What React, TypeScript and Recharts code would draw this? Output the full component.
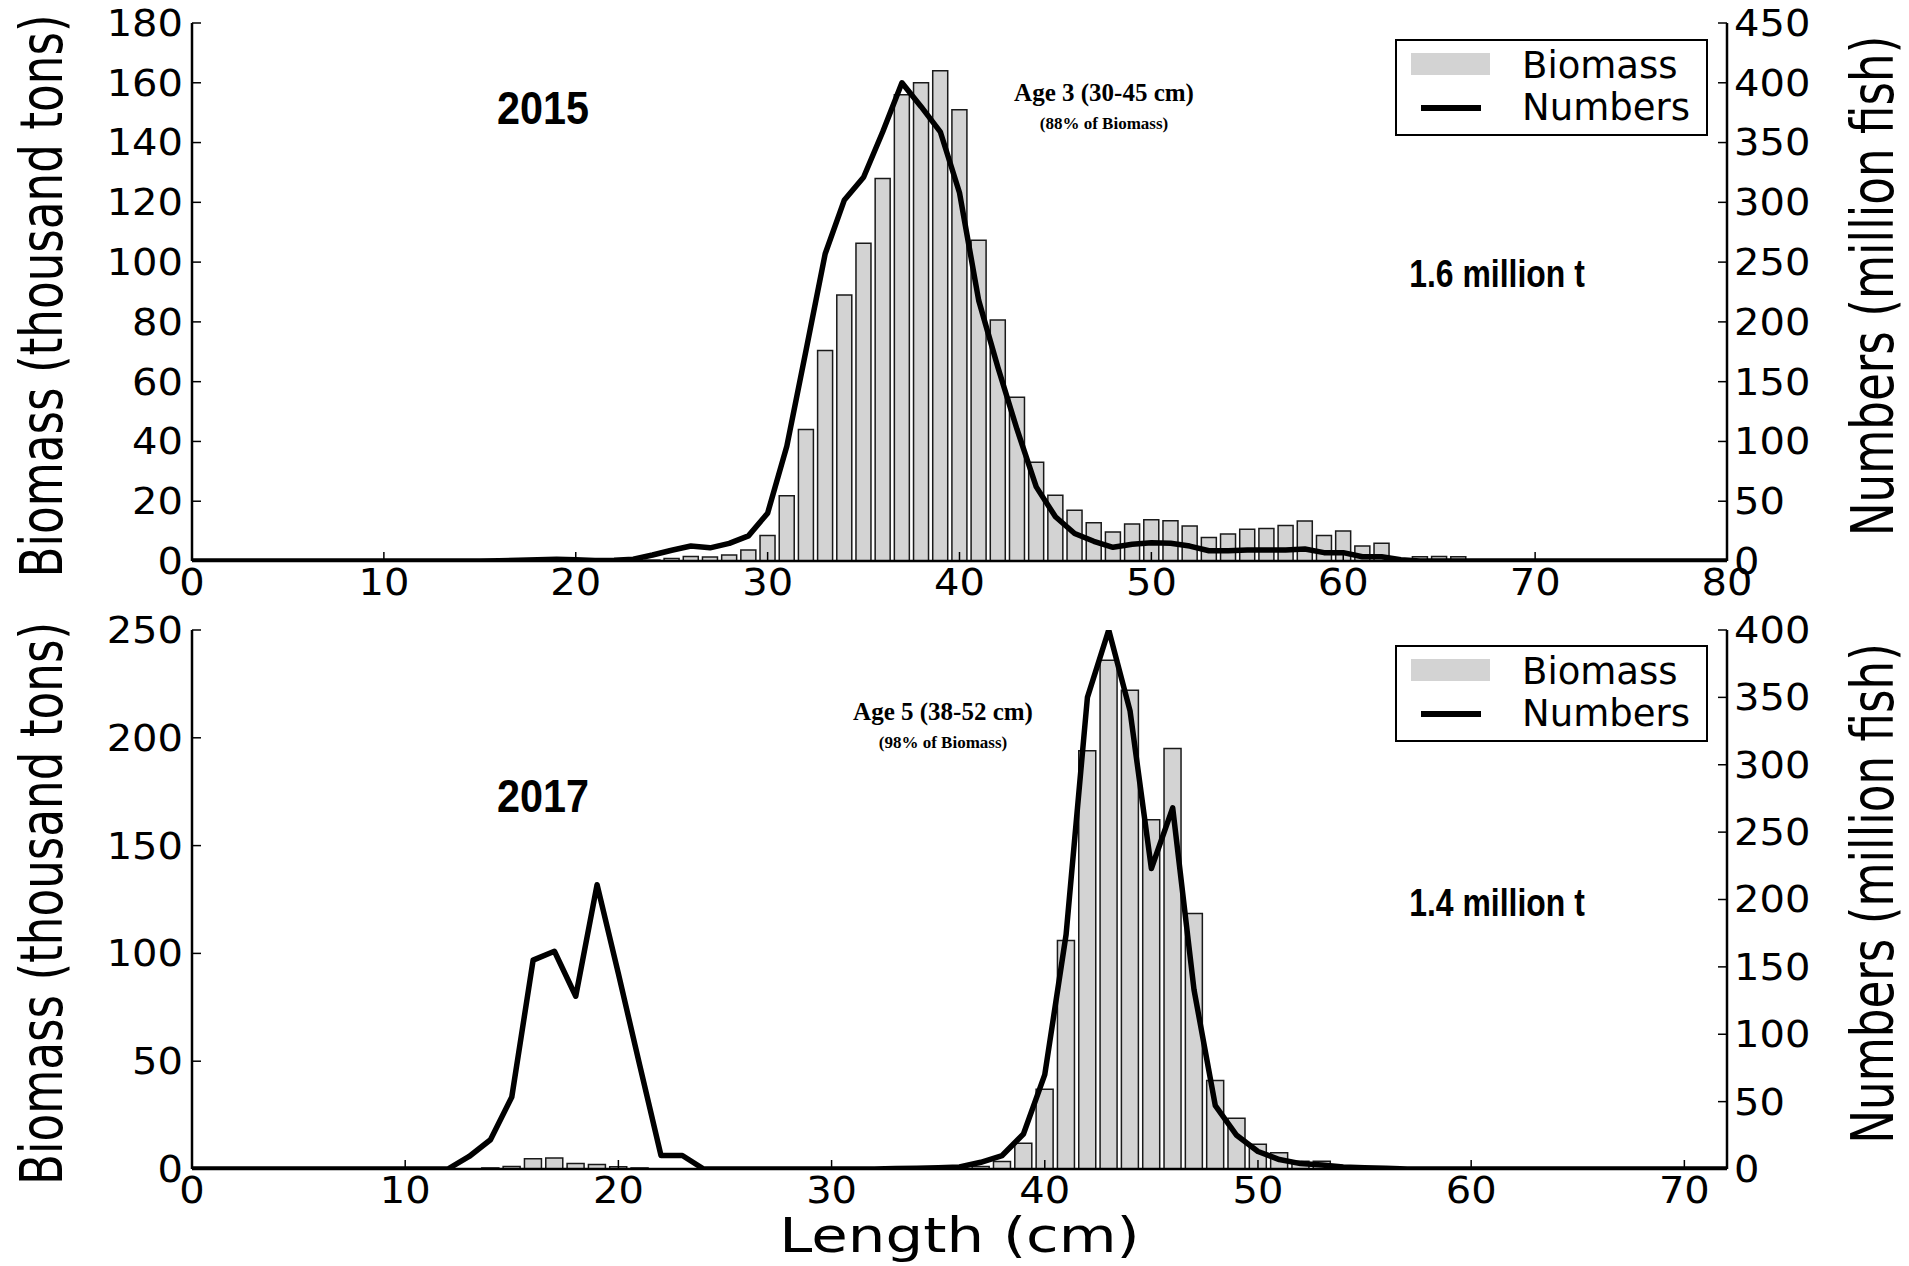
import React from 'react';
import { ComposedChart, Bar, Line, XAxis, YAxis, Legend } from 'recharts';

// ---- 2015 survey, one value per 1 cm length bin (0..80 cm) ----
const biomass2015 = [
  0, 0, 0, 0, 0, 0, 0, 0, 0, 0,
  0, 0, 0, 0, 0, 0, 0, 0, 0, 0,
  0, 0, 0, 0, 0.3, 0.8, 1.5, 1.3, 2, 3.7,
  8.5, 21.8, 44, 70.4, 89, 106.3, 128, 156, 160, 164,
  151, 107.3, 80.6, 54.8, 33, 22, 17, 12.8, 9.7, 12.4,
  13.8, 13.5, 11.7, 7.9, 9, 10.6, 10.9, 11.9, 13.4, 8.5,
  10, 5, 5.9, 0, 1.4, 1.5, 1.4, 0, 0, 0,
  0, 0, 0, 0, 0, 0, 0, 0, 0, 0,
  0,
];
const numbers2015 = [
  0, 0, 0, 0, 0, 0, 0, 0, 0, 0,
  0, 0, 0, 0, 0, 0, 0.3, 0.6, 1, 1.5,
  1, 0.5, 0.6, 1.5, 5, 9, 12.5, 11, 14.7, 21,
  40, 96, 176, 257, 302, 321, 359, 400, 380, 359,
  308, 218, 162, 110, 62, 37, 23, 16.5, 11.5, 14,
  15.3, 14.8, 12.5, 8.6, 8.6, 9.2, 9.2, 9.2, 10, 7,
  7, 3.6, 3.6, 1, 0, 0, 0, 0, 0, 0,
  0, 0, 0, 0, 0, 0, 0, 0, 0, 0,
  0,
];

// ---- 2017 survey, 0..72 cm ----
const biomass2017 = [
  0, 0, 0, 0, 0, 0, 0, 0, 0, 0,
  0, 0, 0, 0, 0.5, 1.2, 4.8, 5.1, 2.6, 2.1,
  1, 0.5, 0, 0, 0, 0, 0, 0, 0, 0,
  0, 0, 0, 0, 0, 0, 0, 1.2, 3.5, 12,
  37, 106, 194, 236, 222, 162, 195, 118.5, 41, 23.5,
  11.5, 7.5, 3.6, 3.6, 1.2, 0.3, 0, 0, 0, 0,
  0, 0, 0, 0, 0, 0, 0, 0, 0, 0,
  0, 0, 0,
];
const numbers2017 = [
  0, 0, 0, 0, 0, 0, 0, 0, 0, 0,
  0, 0, 0, 9.3, 21.7, 53.4, 155, 161.6, 128.2, 211,
  145, 77, 10, 10, 0, 0, 0, 0, 0, 0,
  0, 0, 0, 0.3, 0.5, 1, 1.5, 5, 10, 26,
  70, 174, 350, 400, 340, 223, 268, 133, 47, 25,
  13, 7, 4, 3, 1.5, 1, 0.5, 0, 0, 0,
  0, 0, 0, 0, 0, 0, 0, 0, 0, 0,
  0, 0, 0,
];

const lengthTicks2015 = [0, 10, 20, 30, 40, 50, 60, 70, 80];
const lengthTicks2017 = [0, 10, 20, 30, 40, 50, 60, 70];
const biomassTicks2015 = [0, 20, 40, 60, 80, 100, 120, 140, 160, 180];
const numbersTicks2015 = [0, 50, 100, 150, 200, 250, 300, 350, 400, 450];
const biomassTicks2017 = [0, 50, 100, 150, 200, 250];
const numbersTicks2017 = [0, 50, 100, 150, 200, 250, 300, 350, 400];

const table2015 = biomass2015.map((b, i) => ({ length: i, biomass: b, numbers: numbers2015[i] }));
const table2017 = biomass2017.map((b, i) => ({ length: i, biomass: b, numbers: numbers2017[i] }));

const W = 1909;
const SANS = "'DejaVu Sans', sans-serif";
const BOLD_SANS = "'Liberation Sans', Arial, sans-serif";
const SERIF = "'Liberation Serif', 'Times New Roman', serif";
const TICK_FS = 40;
const TICK_LEN = 9;
const SPINE = { stroke: '#000', strokeWidth: 2.5 };

const BottomTick = ({ x, y, payload }: any) => (
  <g>
    <line x1={x} x2={x} y1={y} y2={y - TICK_LEN} stroke="#000" strokeWidth={1.5} />
    <text
      transform={`translate(${x},${y + 34}) scale(1,0.92)`}
      textAnchor="middle"
      fontFamily={SANS}
      fontSize={TICK_FS}
      fill="#000"
    >
      {payload.value}
    </text>
  </g>
);

const TopTick = ({ x, y }: any) => (
  <line x1={x} x2={x} y1={y} y2={y + TICK_LEN} stroke="#000" strokeWidth={1.5} />
);

const LeftTick = ({ x, y, payload }: any) => (
  <g>
    <line x1={x} x2={x + TICK_LEN} y1={y} y2={y} stroke="#000" strokeWidth={1.5} />
    <text
      transform={`translate(${x - 9},${y}) scale(1,0.92)`}
      textAnchor="end"
      dominantBaseline="central"
      fontFamily={SANS}
      fontSize={TICK_FS}
      fill="#000"
    >
      {payload.value}
    </text>
  </g>
);

const RightTick = ({ x, y, payload }: any) => (
  <g>
    <line x1={x} x2={x - TICK_LEN} y1={y} y2={y} stroke="#000" strokeWidth={1.5} />
    <text
      transform={`translate(${x + 7},${y}) scale(1,0.92)`}
      textAnchor="start"
      dominantBaseline="central"
      fontFamily={SANS}
      fontSize={TICK_FS}
      fill="#000"
    >
      {payload.value}
    </text>
  </g>
);

// rotated titles look squashed along their length in the original figure
const sideTitle = (text: string, dx: number, dy: number) => (props: any) => {
  const { viewBox } = props;
  const cx = viewBox.x + dx;
  const cy = viewBox.y + viewBox.height / 2 + dy;
  return (
    <text
      transform={`translate(${cx},${cy}) rotate(-90) scale(0.78,1)`}
      textAnchor="middle"
      dominantBaseline="central"
      fontFamily={SANS}
      fontSize={58}
      fill="#000"
    >
      {text}
    </text>
  );
};

const lengthTitle = (props: any) => {
  const { viewBox } = props;
  const cx = viewBox.x + viewBox.width / 2;
  const cy = viewBox.y + 67;
  return (
    <text
      transform={`translate(${cx},${cy}) scale(1.06,0.86)`}
      textAnchor="middle"
      dominantBaseline="central"
      fontFamily={SANS}
      fontSize={56}
      fill="#000"
    >
      Length (cm)
    </text>
  );
};

const LegendBox = ({ payload }: any) => (
  <svg width={313} height={97} style={{ display: 'block' }}>
    <rect x={1} y={1} width={311} height={95} fill="#fff" stroke="#000" strokeWidth={2} />
    {(payload || []).map((entry: any, i: number) => {
      const cy = i === 0 ? 26 : 68;
      return (
        <g key={entry.value}>
          {entry.type === 'line' ? (
            <line x1={26} x2={86} y1={cy + 1} y2={cy + 1} stroke="#000" strokeWidth={6} />
          ) : (
            <rect x={16} y={cy - 12} width={79} height={22} fill="#d3d3d3" />
          )}
          <text x={127} y={cy} dominantBaseline="central" fontFamily={SANS} fontSize={37} fill="#000">
            {entry.value}
          </text>
        </g>
      );
    })}
  </svg>
);

interface PanelProps {
  top: number;
  height: number;
  xAxisHeight: number;
  data: { length: number; biomass: number; numbers: number }[];
  xMax: number;
  xTicks: number[];
  leftMax: number;
  leftTicks: number[];
  rightMax: number;
  rightTicks: number[];
  barSize: number;
  legendTop: number;
  showLengthTitle?: boolean;
}

function Panel({
  top, height, xAxisHeight, data, xMax, xTicks, leftMax, leftTicks,
  rightMax, rightTicks, barSize, legendTop, showLengthTitle,
}: PanelProps) {
  return (
    <div style={{ position: 'absolute', left: 0, top, width: W, height }}>
      <ComposedChart width={W} height={height} data={data} margin={{ top: 23, right: 0, bottom: 0, left: 0 }}>
        <XAxis
          xAxisId="top"
          orientation="top"
          type="number"
          dataKey="length"
          domain={[0, xMax]}
          allowDataOverflow
          ticks={xTicks}
          interval={0}
          height={0}
          tickSize={0}
          tickMargin={0}
          tick={<TopTick />}
          axisLine={SPINE}
        />
        <XAxis
          type="number"
          dataKey="length"
          domain={[0, xMax]}
          allowDataOverflow
          ticks={xTicks}
          interval={0}
          height={xAxisHeight}
          tickSize={0}
          tickMargin={0}
          tick={<BottomTick />}
          axisLine={SPINE}
          label={showLengthTitle ? lengthTitle : undefined}
        />
        <YAxis
          yAxisId="left"
          orientation="left"
          width={192}
          domain={[0, leftMax]}
          allowDataOverflow
          ticks={leftTicks}
          interval={0}
          tickSize={0}
          tickMargin={0}
          tick={<LeftTick />}
          axisLine={SPINE}
          label={sideTitle('Biomass (thousand tons)', 42, 4)}
        />
        <YAxis
          yAxisId="right"
          orientation="right"
          width={182}
          domain={[0, rightMax]}
          allowDataOverflow
          ticks={rightTicks}
          interval={0}
          tickSize={0}
          tickMargin={0}
          tick={<RightTick />}
          axisLine={SPINE}
          label={sideTitle('Numbers (million fish)', 146, -6)}
        />
        <Bar
          yAxisId="left"
          dataKey="biomass"
          name="Biomass"
          fill="#d3d3d3"
          stroke="#1a1a1a"
          strokeWidth={1.5}
          barSize={barSize}
          isAnimationActive={false}
        />
        <Line
          yAxisId="right"
          dataKey="numbers"
          name="Numbers"
          type="linear"
          stroke="#000"
          strokeWidth={5.5}
          strokeLinejoin="round"
          dot={false}
          activeDot={false}
          isAnimationActive={false}
        />
        <Legend
          content={<LegendBox />}
          layout="vertical"
          align="center"
          verticalAlign="middle"
          wrapperStyle={{ position: 'absolute', left: 1395, top: legendTop, width: 313, height: 97 }}
        />
      </ComposedChart>
    </div>
  );
}

// condensed bold sans text (narrow look of the original annotations)
const Condensed = ({ x, y, size, sx, children }: any) => (
  <text
    transform={`translate(${x},${y}) scale(${sx},1)`}
    textAnchor="middle"
    dominantBaseline="central"
    fontFamily={BOLD_SANS}
    fontWeight={700}
    fontSize={size}
    fill="#000"
  >
    {children}
  </text>
);

const boldSerif = { fontFamily: SERIF, fontWeight: 700, fill: '#000' } as const;

export default function App() {
  return (
    <div style={{ position: 'absolute', left: 0, top: 0, width: W, height: 1266, background: '#fff' }}>
      <Panel
        top={0}
        height={620}
        xAxisHeight={59}
        data={table2015}
        xMax={80}
        xTicks={lengthTicks2015}
        leftMax={180}
        leftTicks={biomassTicks2015}
        rightMax={450}
        rightTicks={numbersTicks2015}
        barSize={15}
        legendTop={39}
      />
      <Panel
        top={607}
        height={659}
        xAxisHeight={97}
        data={table2017}
        xMax={72}
        xTicks={lengthTicks2017}
        leftMax={250}
        leftTicks={biomassTicks2017}
        rightMax={400}
        rightTicks={numbersTicks2017}
        barSize={17}
        legendTop={38}
        showLengthTitle
      />
      <svg
        width={W}
        height={1266}
        style={{ position: 'absolute', left: 0, top: 0, pointerEvents: 'none' }}
      >
        <Condensed x={543} y={108} size={47} sx={0.88}>2015</Condensed>
        <Condensed x={543} y={796} size={47} sx={0.88}>2017</Condensed>
        <Condensed x={1497} y={273} size={38} sx={0.84}>1.6 million t</Condensed>
        <Condensed x={1497} y={902} size={38} sx={0.84}>1.4 million t</Condensed>
        <text x={1104} y={92} textAnchor="middle" dominantBaseline="central" fontSize={25} {...boldSerif}>Age 3 (30-45 cm)</text>
        <text x={1104} y={123} textAnchor="middle" dominantBaseline="central" fontSize={17} {...boldSerif}>(88% of Biomass)</text>
        <text x={943} y={711} textAnchor="middle" dominantBaseline="central" fontSize={25} {...boldSerif}>Age 5 (38-52 cm)</text>
        <text x={943} y={742} textAnchor="middle" dominantBaseline="central" fontSize={17} {...boldSerif}>(98% of Biomass)</text>
      </svg>
    </div>
  );
}
